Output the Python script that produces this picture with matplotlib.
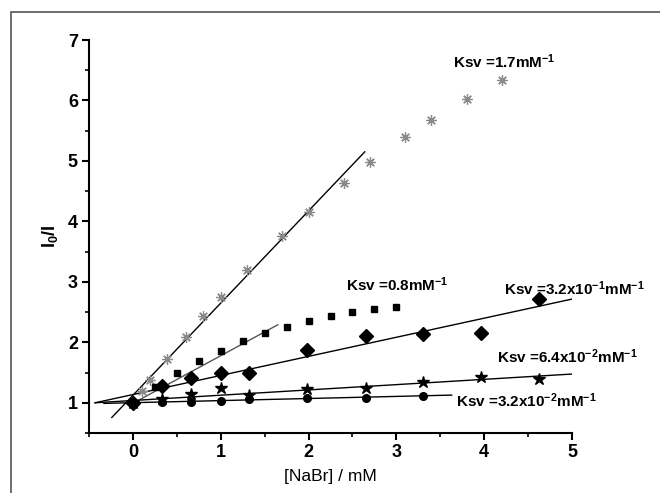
import matplotlib
matplotlib.use("Agg")
import matplotlib.pyplot as plt
from matplotlib.patches import Rectangle
from matplotlib.ticker import MultipleLocator
import numpy as np

plt.rcParams['font.family'] = ['Liberation Sans', 'DejaVu Sans']
plt.rcParams['mathtext.fontset'] = 'custom'
plt.rcParams['mathtext.rm'] = 'Liberation Sans:bold'
plt.rcParams['mathtext.it'] = 'Liberation Sans:bold'
plt.rcParams['mathtext.bf'] = 'Liberation Sans:bold'
plt.rcParams['mathtext.default'] = 'rm'

# Data
x_ast = [0.1, 0.2, 0.39, 0.6, 0.8, 1.0, 1.3, 1.7, 2.0, 2.4, 2.7, 3.1, 3.4, 3.8, 4.2]
y_ast = [1.2, 1.37, 1.73, 2.09, 2.43, 2.75, 3.19, 3.76, 4.16, 4.64, 4.98, 5.39, 5.68, 6.02, 6.34]
fit_ast_x = [-0.24, 2.64]
fit_ast_y = [0.757, 5.15]

x_sq = [0.25, 0.5, 0.75, 1.0, 1.25, 1.5, 1.75, 2.0, 2.25, 2.5, 2.75, 3.0]
y_sq = [1.265, 1.485, 1.69, 1.86, 2.015, 2.16, 2.26, 2.36, 2.44, 2.505, 2.55, 2.59]
fit_sq_x = [0.05, 1.65]
fit_sq_y = [1.03, 2.29]

x_dia = [0.0, 0.33, 0.66, 1.0, 1.32, 1.98, 2.65, 3.3, 3.96, 4.62]
y_dia = [0.99, 1.28, 1.41, 1.50, 1.485, 1.87, 2.10, 2.14, 2.16, 2.71]
fit_dia_x = [-0.43, 5.0]
fit_dia_y = [1.0, 2.715]

x_star = [0.0, 0.33, 0.66, 1.0, 1.32, 1.98, 2.65, 3.3, 3.96, 4.62]
y_star = [1.0, 1.06, 1.15, 1.24, 1.13, 1.22, 1.24, 1.34, 1.43, 1.39]
fit_star_x = [-0.43, 5.0]
fit_star_y = [1.0, 1.475]

x_cir = [0.0, 0.33, 0.66, 1.0, 1.32, 1.98, 2.65, 3.3]
y_cir = [0.99, 1.01, 1.01, 1.03, 1.065, 1.08, 1.08, 1.115]
fit_cir_x = [-0.33, 3.63]
fit_cir_y = [0.99, 1.127]

labels = [r'Ksv =1.7mM$^{-1}$', r'Ksv =0.8mM$^{-1}$', r'Ksv =3.2x10$^{-1}$mM$^{-1}$',
          r'Ksv =6.4x10$^{-2}$mM$^{-1}$', r'Ksv =3.2x10$^{-2}$mM$^{-1}$']
label_x = [3.64, 2.43, 4.22, 4.15, 3.68]
label_y = [6.64, 2.95, 2.89, 1.77, 1.04]

fig = plt.figure(figsize=(6.6, 4.93), dpi=100)
fig.patches.append(Rectangle((11/660, -0.1), 1.2, (493-12)/493 + 0.1, transform=fig.transFigure,
                             fill=False, edgecolor='#555555', lw=1.2))
ax = fig.add_axes([89/660, 60/493, (572-89)/660, (433-40)/493])

# fit lines
ax.plot(fit_ast_x, fit_ast_y, color='black', lw=1.0)
ax.plot(fit_sq_x, fit_sq_y, color='#555555', lw=1.0)
ax.plot(fit_dia_x, fit_dia_y, color='black', lw=1.0)
ax.plot(fit_star_x, fit_star_y, color='black', lw=1.0)
ax.plot(fit_cir_x, fit_cir_y, color='black', lw=1.0)

# points
ax.plot(x_ast, y_ast, ls='none', marker=(8, 2, 0), ms=7.5, mew=0.9, color='#8a8a8a')
ax.plot(x_sq, y_sq, ls='none', marker='s', ms=5, color='black')
ax.plot(x_dia, y_dia, ls='none', marker='D', ms=7, color='black')
ax.plot(x_star, y_star, ls='none', marker='*', ms=9, color='black')
ax.plot(x_cir, y_cir, ls='none', marker='o', ms=5.5, color='black')

for t, lx, ly in zip(labels, label_x, label_y):
    ax.text(lx, ly, t, fontsize=11, fontweight='bold', va='center', ha='left', clip_on=False)

ax.set_xlim(-0.5, 5)
ax.set_ylim(0.5, 7)
ax.xaxis.set_major_locator(MultipleLocator(1))
ax.xaxis.set_minor_locator(MultipleLocator(0.5))
ax.yaxis.set_major_locator(MultipleLocator(1))
ax.yaxis.set_minor_locator(MultipleLocator(0.5))
for s in ['top', 'right']:
    ax.spines[s].set_visible(False)
for s in ['left', 'bottom']:
    ax.spines[s].set_linewidth(1.5)
ax.tick_params(which='major', direction='out', length=5, width=1.5, labelsize=13, pad=3)
ax.tick_params(which='minor', direction='out', length=3, width=1.2)
for lab in ax.get_xticklabels() + ax.get_yticklabels():
    lab.set_fontweight('bold')

ax.set_xlabel('[NaBr] / mM', fontsize=12.5, labelpad=6)
ax.set_ylabel(r'I$_0$/I', fontsize=13, fontweight='bold', labelpad=6)

fig.savefig('out.png', dpi=100)
